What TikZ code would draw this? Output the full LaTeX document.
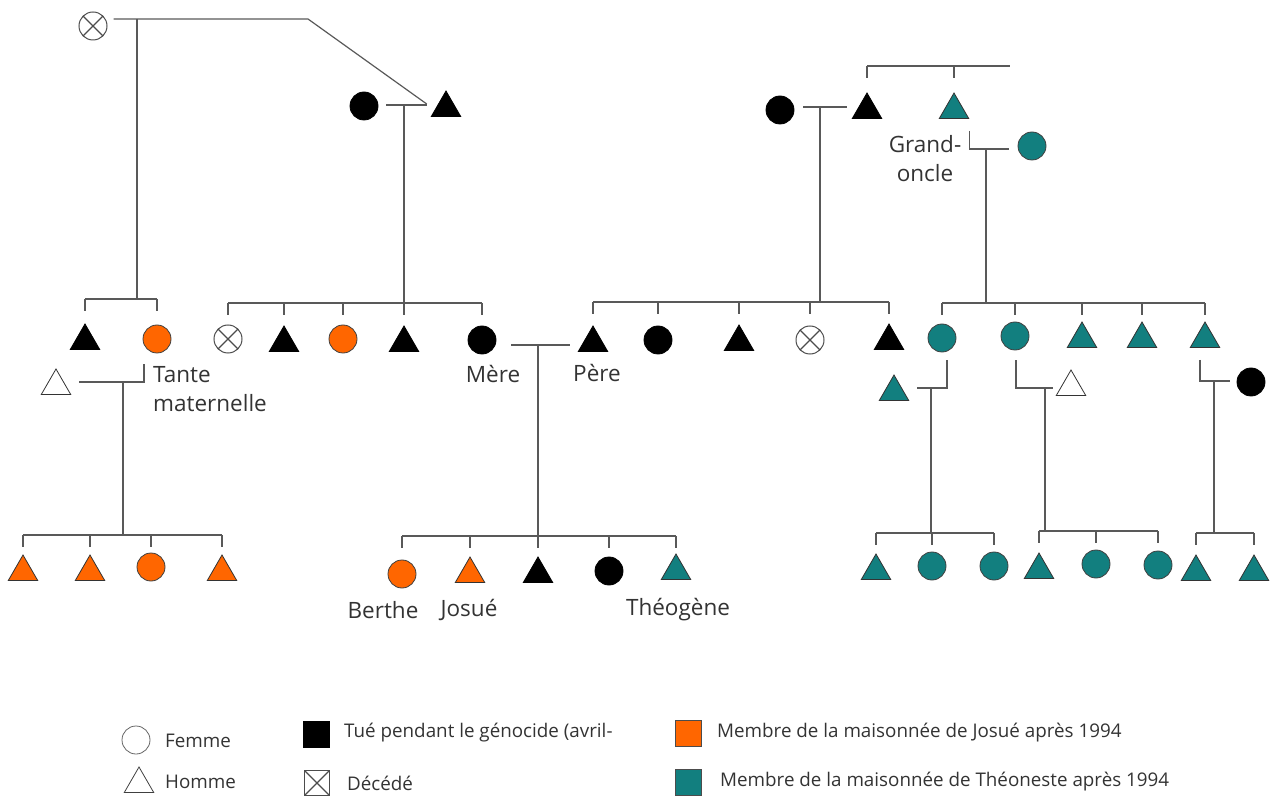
\documentclass[tikz,border=0pt]{standalone}
\usepackage{fontspec}
\setmainfont{Open Sans}
\usetikzlibrary{shapes.geometric,calc}
\definecolor{josueor}{RGB}{255,102,0}
\definecolor{theoteal}{RGB}{18,127,127}

\begin{document}
\begin{tikzpicture}[x=1pt,y=-1pt,
 fem/.style={circle,minimum size=28pt,inner sep=0pt,draw=black!75,line width=0.8pt},
 hom/.style={regular polygon,regular polygon sides=3,minimum size=34pt,inner sep=0pt,draw=black!80,line width=0.8pt},
 tue/.style={fill=black,draw=black},
 jos/.style={fill=josueor},
 theo/.style={fill=theoteal},
 croix/.style={path picture={\draw[black!70,line width=1.2pt] (path picture bounding box.north west)--(path picture bounding box.south east) (path picture bounding box.north east)--(path picture bounding box.south west);}},
 mort/.style={fem,croix,draw=black!70,line width=1pt},
 link/.style={draw=black!65,line width=1.2pt},
 lbl/.style={font=\fontsize{22.5}{29}\selectfont,text=black!80,inner sep=0pt},
 leg/.style={font=\fontsize{18.8}{22}\selectfont,text=black!80,inner sep=0pt,anchor=west}]
\useasboundingbox (0,0) rectangle (1272,799);
% ---------- generation 1
\node[mort] (gmere) at (93,26){};
\node[fem,tue] (gmW) at (364,106){};
\node[hom,tue] (gpere) at (446,108){};
\node[fem,tue] (pgm) at (780,110){};
\node[hom,tue] (pgf) at (867,110){};
\node[hom,theo] (gonc) at (954,110){};
\node[fem,theo] (goncW) at (1032,146){};
\node[lbl,align=center] (lgonc) at (925,159){Grand-\\oncle};
% ---------- generation 2
\node[hom,tue] (oncle) at (85,341){};
\node[fem,jos] (tante) at (157,339){};
\node[hom] (tanteH) at (56,386){};
\node[lbl,align=left,anchor=west] (ltante) at (153,389){Tante\\maternelle};
\node[mort] (s1) at (228,339){};
\node[hom,tue] (s2) at (284,343){};
\node[fem,jos] (s3) at (343,339){};
\node[hom,tue] (s4) at (404,343){};
\node[fem,tue] (mere) at (482,340){};
\node[lbl] (lmere) at (493,374){Mère};
\node[hom,tue] (pere) at (593,343){};
\node[lbl] (lpere) at (597,373){Père};
\node[fem,tue] (b2) at (658,340){};
\node[hom,tue] (b3) at (739,342){};
\node[mort] (b4) at (810,340){};
\node[hom,tue] (b5) at (889,341){};
\node[fem,theo] (c1) at (942,338){};
\node[fem,theo] (c2) at (1015,336){};
\node[hom,theo] (c3) at (1082,339){};
\node[hom,theo] (c4) at (1142,339){};
\node[hom,theo] (c5) at (1205,339){};
\node[hom,theo] (c1H) at (894,392){};
\node[hom] (c2H) at (1071,387){};
\node[fem,tue] (c5W) at (1251,382){};
% ---------- generation 3
\node[hom,jos] (k1) at (23,572){};
\node[hom,jos] (k2) at (90,572){};
\node[fem,jos] (k3) at (151,567){};
\node[hom,jos] (k4) at (222,572){};
\node[fem,jos] (berthe) at (402,574){};
\node[hom,jos] (josue) at (470,574){};
\node[hom,tue] (m3) at (538,574){};
\node[fem,tue] (m4) at (609,571){};
\node[hom,theo] (theog) at (676,571){};
\node[lbl] (lberthe) at (383,610){Berthe};
\node[lbl] (ljosue) at (469,610){Josué};
\node[lbl] (ltheog) at (678,610){Théogène};
\node[hom,theo] (r1) at (876,571){};
\node[fem,theo] (r2) at (932,566){};
\node[fem,theo] (r3) at (994,566){};
\node[hom,theo] (r4) at (1039,570){};
\node[fem,theo] (r5) at (1096,564){};
\node[fem,theo] (r6) at (1158,565){};
\node[hom,theo] (r7) at (1196,572){};
\node[hom,theo] (r8) at (1254,572){};
% ---------- unions
\coordinate (j1) at (137,19);
\coordinate (k1b) at (308,19);
\coordinate (j2) at (404,105);
\coordinate (j3) at (820,107);
\coordinate (j4) at (986,149);
\coordinate (j5) at (538,345);
\coordinate (j6) at (123,382);
\coordinate (j7) at (931,388);
\coordinate (j8) at (1045,388);
\coordinate (j9) at (1214,381);
\draw[link] ($(gmere.east|-j1)+(6,0)$) -- (k1b) -- ($(gpere.west)+(-9,-4)$);
\draw[link] ($(gmW.east|-j2)+(8,0)$) -- ($(gpere.west|-j2)+(-9,0)$);
\draw[link] ($(pgm.east|-j3)+(9,0)$) -- ($(pgf.west|-j3)+(-10,0)$);
\draw[link] ($(gonc.corner 3)+(0,12)$) |- ($(goncW.west)+(-9,3)$);
\draw[link] ($(mere.east|-j5)+(15,0)$) -- ($(pere.west|-j5)+(-13,0)$);
\draw[link] ($(tante.south)+(-13,11)$) |- ($(tanteH.east)+(13,-4)$);
\draw[link] ($(c1.south)+(5,8)$) |- ($(c1H.east)+(13,-4)$);
\draw[link] ($(c2.south)+(1,10)$) |- ($(c2H.west)+(-8,1)$);
\draw[link] ($(c5.south)+(-5,12)$) |- ($(c5W.west)+(-7,-1)$);
% ---------- sibling bars
\coordinate (bar0) at (0,66);
\coordinate (bar0e) at (1010,66);
\coordinate (bar1) at (0,299);
\coordinate (bar2) at (0,303);
\coordinate (bar3) at (0,302);
\coordinate (bar4) at (0,303);
\coordinate (bar5) at (0,536);
\coordinate (bar6) at (0,535);
\coordinate (bar7) at (0,533);
\coordinate (bar8) at (0,531);
\coordinate (bar9) at (0,533);
\draw[link] (pgf|-bar0) -- (bar0e);
\foreach \j/\b/\l/\r in {j1/bar1/oncle/tante,j2/bar2/s1/mere,j3/bar3/pere/b5,j4/bar4/c1/c5,
 j5/bar5/berthe/theog,j6/bar6/k1/k4,j7/bar7/r1/r3,j8/bar8/r4/r6,j9/bar9/r7/r8}{
 \draw[link] (\j) -- (\j|-\b);
 \draw[link] (\l|-\b) -- (\r|-\b);}
\foreach \b/\n in {bar0/pgf,bar0/gonc,bar1/oncle,bar1/tante,bar2/s1,bar2/s2,bar2/s3,bar2/s4,bar2/mere,
 bar3/pere,bar3/b2,bar3/b3,bar3/b4,bar3/b5,bar4/c1,bar4/c2,bar4/c3,bar4/c4,bar4/c5,
 bar5/berthe,bar5/josue,bar5/m3,bar5/m4,bar5/theog,bar6/k1,bar6/k2,bar6/k3,bar6/k4,
 bar7/r1,bar7/r2,bar7/r3,bar8/r4,bar8/r5,bar8/r6,bar9/r7,bar9/r8}
 \draw[link] (\n|-\b) -- ++(0,12);
% ---------- legend
\node[fem,draw=black!60] (lfem) at (136,740){};
\node[leg] (tfem) at (165,741){Femme};
\node[hom,draw=black!75] (lhom) at (139,784){};
\node[leg] (thom) at (165,782){Homme};
\node[rectangle,fill=black,minimum size=27pt,inner sep=0pt] (ltue) at (316,734){};
\node[leg] (ttue) at (344,733){Tué pendant le génocide (avril-};
\node[rectangle,croix,draw=black!70,line width=1pt,minimum size=25pt,inner sep=0pt] (ldcd) at (317,783){};
\node[leg] (tdcd) at (347,783){Décédé};
\node[rectangle,jos,draw=black!70,line width=0.8pt,minimum size=26pt,inner sep=0pt] (ljos) at (688,733){};
\node[leg] (tjos) at (717,733){Membre de la maisonnée de Josué après 1994};
\node[rectangle,theo,draw=black!70,line width=0.8pt,minimum size=26pt,inner sep=0pt] (ltheo) at (688,782){};
\node[leg] (ttheo) at (720,782){Membre de la maisonnée de Théoneste après 1994};
\end{tikzpicture}
\end{document}
